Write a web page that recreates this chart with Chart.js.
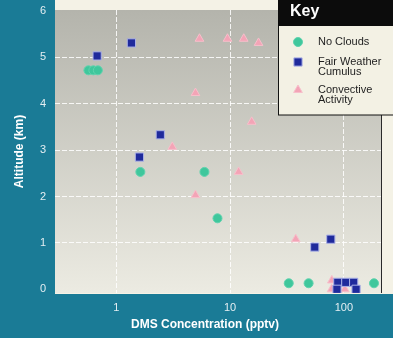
<!DOCTYPE html>
<html>
<head>
<meta charset="utf-8">
<script src="https://cdn.jsdelivr.net/npm/chart.js@4/dist/chart.umd.min.js"></script>
<style>
  html, body { margin: 0; padding: 0; background: #f4f2e6; }
  #wrap { width: 393px; height: 338px; position: relative; }
</style>
</head>
<body>
<div id="wrap"><canvas id="dms" width="393" height="338"></canvas></div>
<script>
// values: [DMS pptv, altitude km]
const noCloudsX = [0.57, 0.63, 0.69, 1.63, 5.96, 7.76, 32.8, 49, 184];
const noCloudsY = [4.72, 4.72, 4.72, 2.53, 2.53, 1.53, 0.13, 0.13, 0.13];

const cumulusX = [0.68, 1.36, 2.44, 1.6, 76.8, 55.5, 88.5, 104, 122, 87, 128];
const cumulusY = [5.03, 5.31, 3.33, 2.85, 1.08, 0.91, 0.15, 0.15, 0.15, 0.0, 0.0];

const convectiveX = [5.39, 9.5, 13.2, 17.8, 4.97, 3.11, 15.5, 11.9, 4.97, 37.8, 78.4, 78, 102];
const convectiveY = [5.40, 5.40, 5.40, 5.31, 4.23, 3.07, 3.61, 2.53, 2.03, 1.08, 0.19, 0.0, 0.0];

const xTickValues = [1, 10, 100];
const yTickValues = [0, 1, 2, 3, 4, 5, 6];
const keyLabels = [['No Clouds'], ['Fair Weather', 'Cumulus'], ['Convective', 'Activity']];
const xTitle = 'DMS Concentration (pptv)';

const FONT = "'Liberation Sans', Arial, sans-serif";
const TEAL = '#1a7b96';

function pts(xs, ys) { return xs.map((x, i) => ({ x: x, y: ys[i] })); }

// backgrounds: teal frame left & bottom, cream elsewhere, grey gradient in plot
const backdrop = {
  id: 'backdrop',
  beforeDraw(chart) {
    const { ctx, chartArea: a, width, height } = chart;
    ctx.save();
    ctx.fillStyle = '#f4f2e6';
    ctx.fillRect(0, 0, width, height);
    ctx.fillStyle = TEAL;
    ctx.fillRect(0, 0, a.left, height);
    ctx.fillRect(0, a.bottom + 1, width, height - a.bottom);
    const g = ctx.createLinearGradient(0, a.top, 0, a.bottom);
    g.addColorStop(0, '#b4b4ac');
    g.addColorStop(1, '#ecebe2');
    ctx.fillStyle = g;
    ctx.fillRect(a.left, a.top, a.right - a.left, a.bottom - a.top);
    ctx.strokeStyle = '#2a2a2a';
    ctx.lineWidth = 1;
    ctx.beginPath();
    ctx.moveTo(a.right + 0.5, a.top);
    ctx.lineTo(a.right + 0.5, a.bottom);
    ctx.stroke();
    ctx.restore();
  },
  afterDraw(chart) {
    // x axis title sits a little left of the plot centre in the original
    const ctx = chart.ctx;
    ctx.save();
    ctx.fillStyle = '#ffffff';
    ctx.font = 'bold 12px ' + FONT;
    ctx.textAlign = 'center';
    ctx.textBaseline = 'middle';
    ctx.fillText(xTitle, 205, 325);
    ctx.restore();
  }
};

// the "Key" box in the top right corner
const keyBox = {
  id: 'keyBox',
  afterDraw(chart) {
    const ctx = chart.ctx;
    const x0 = 278, w = 393 - x0;
    ctx.save();
    ctx.fillStyle = '#f3f1e4';
    ctx.fillRect(x0, 0, w, 115);
    ctx.strokeStyle = '#111';
    ctx.lineWidth = 1;
    ctx.strokeRect(x0 + 0.5, -1, w, 116);
    ctx.fillStyle = '#0c0c0c';
    ctx.fillRect(x0, 0, w, 26);
    ctx.fillStyle = '#ffffff';
    ctx.font = 'bold 16px ' + FONT;
    ctx.textBaseline = 'middle';
    ctx.fillText('Key', 290, 12);

    const rows = [42, 62, 90];
    chart.data.datasets.forEach((ds, i) => {
      const y = rows[i];
      ctx.fillStyle = ds.backgroundColor;
      ctx.strokeStyle = ds.borderColor;
      ctx.lineWidth = ds.borderWidth;
      Chart.helpers.drawPoint(ctx, {
        pointStyle: ds.pointStyle, radius: ds.pointRadius, rotation: 0, borderWidth: ds.borderWidth
      }, 298, y);
      ctx.fillStyle = '#1e1e1e';
      ctx.font = '11px ' + FONT;
      keyLabels[i].forEach((line, j) => ctx.fillText(line, 318, y + j * 10));
    });
    ctx.restore();
  }
};

new Chart(document.getElementById('dms'), {
  type: 'scatter',
  data: {
    datasets: [
      {
        label: 'No Clouds',
        data: pts(noCloudsX, noCloudsY),
        pointStyle: 'circle', pointRadius: 4.5,
        backgroundColor: '#3fc79c', borderColor: '#5fd3ae', borderWidth: 1
      },
      {
        label: 'Fair Weather Cumulus',
        data: pts(cumulusX, cumulusY),
        pointStyle: 'rect', pointRadius: 5.8,
        backgroundColor: '#1f2a9c', borderColor: '#aab0e6', borderWidth: 1
      },
      {
        label: 'Convective Activity',
        data: pts(convectiveX, convectiveY),
        pointStyle: 'triangle', pointRadius: 5,
        backgroundColor: '#f3a4b6', borderColor: '#f7bfcb', borderWidth: 1
      }
    ]
  },
  options: {
    responsive: false,
    animation: false,
    layout: { padding: { top: 10, right: 12, left: 0, bottom: 0 } },
    plugins: {
      legend: { display: false },
      tooltip: { enabled: false }
    },
    scales: {
      x: {
        type: 'logarithmic',
        min: 0.29,
        max: 212,
        afterBuildTicks: s => { s.ticks = xTickValues.map(v => ({ value: v })); },
        afterFit: s => { s.height = 45; s.paddingLeft = 0; s.paddingRight = 0; },
        border: { display: false, dash: [5, 2] },
        grid: {
          color: 'rgba(255,255,255,0.85)',
          lineWidth: 1,
          drawTicks: false
        },
        ticks: {
          color: '#e4eef2',
          font: { family: FONT, size: 11 },
          padding: 8,
          maxRotation: 0,
          callback: v => String(v)
        },
        title: { display: false }
      },
      y: {
        min: -0.08,
        max: 6.02,
        afterBuildTicks: s => { s.ticks = yTickValues.map(v => ({ value: v })); },
        afterFit: s => { s.width = 55; s.paddingTop = 0; s.paddingBottom = 0; },
        border: { display: false, dash: [5, 2] },
        grid: {
          color: c => (c.tick && c.tick.value > 0 && c.tick.value < 6) ? 'rgba(255,255,255,0.85)' : 'rgba(0,0,0,0)',
          lineWidth: 1,
          drawTicks: false
        },
        ticks: {
          color: '#e4eef2',
          font: { family: FONT, size: 11 },
          padding: 9
        },
        title: {
          display: true,
          text: 'Altitude (km)',
          color: '#ffffff',
          font: { family: FONT, size: 12, weight: 'bold' },
          padding: { top: 12 }
        }
      }
    }
  },
  plugins: [backdrop, keyBox]
});
</script>
</body>
</html>
